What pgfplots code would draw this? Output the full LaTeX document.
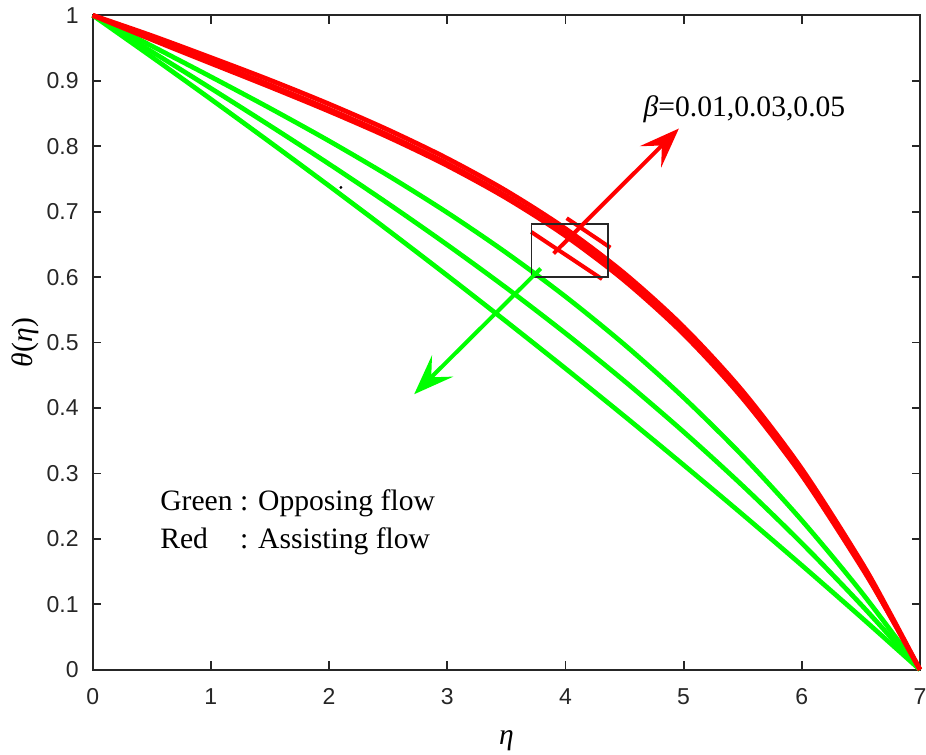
\documentclass[border=0pt]{standalone}
\usepackage{fontspec}
\setmainfont{Liberation Serif}
\newfontfamily\arialfont{Liberation Sans}
\usepackage{pgfplots}
\pgfplotsset{compat=1.18}
\usetikzlibrary{arrows.meta}
\definecolor{mred}{RGB}{255,0,0}
\definecolor{mgreen}{RGB}{0,255,0}
\definecolor{axgray}{RGB}{38,38,38}

\begin{document}
\begin{tikzpicture}
\begin{axis}[
  scale only axis, width=413.6pt, height=327.2pt,
  xmin=0, xmax=7, ymin=0, ymax=1,
  xtick={0,1,2,3,4,5,6,7},
  ytick={0,0.1,0.2,0.3,0.4,0.5,0.6,0.7,0.8,0.9,1},
  yticklabels={0,0.1,0.2,0.3,0.4,0.5,0.6,0.7,0.8,0.9,1},
  tick align=inside, major tick length=4.2pt,
  axis line style={axgray, line width=0.9pt},
  every tick/.style={axgray, line width=0.9pt},
  tick label style={font=\arialfont\fontsize{11.5}{13}\selectfont, text=axgray},
  /pgf/number format/assume math mode=true,
  yticklabel style={xshift=-3.5pt},
  xticklabel style={yshift=-6pt},
  xlabel={\itshape η},
  ylabel={\itshape θ\upshape(\itshape η\upshape)},
  label style={font=\fontsize{14.8}{17}\selectfont},
  xlabel style={at={(axis description cs:0.5,-0.1146)}, anchor=base},
  ylabel style={at={(axis description cs:-0.082,0.5)}, anchor=center},
  clip=false,
]
% opposing flow (green)
\addplot[mgreen, line width=2.35pt, smooth] coordinates {
(0,1) (0.5,0.9531) (1,0.9061) (1.5,0.8580) (2,0.8080) (2.5,0.7551) (3,0.6985)
(3.5,0.6371) (4,0.5702) (4.5,0.4967) (5,0.4159) (5.5,0.3267) (6,0.2282) (6.5,0.1196) (7,0)};
\addplot[mgreen, line width=2.35pt, smooth] coordinates {
(0,1) (0.5,0.9445) (1,0.8884) (1.5,0.8313) (2,0.7728) (2.5,0.7123) (3,0.6493)
(3.5,0.5835) (4,0.5142) (4.5,0.4410) (5,0.3635) (5.5,0.2811) (6,0.1934) (6.5,0.0998) (7,0)};
\addplot[mgreen, line width=2.35pt, smooth] coordinates {
(0,1) (0.5,0.9364) (1,0.8718) (1.5,0.8061) (2,0.7394) (2.5,0.6715) (3,0.6024)
(3.5,0.5320) (4,0.4604) (4.5,0.3874) (5,0.3129) (5.5,0.2371) (6,0.1596) (6.5,0.0806) (7,0)};
% assisting flow (red), beta = 0.01, 0.03, 0.05
\addplot[mred, line width=2.35pt, smooth] coordinates {
(0,1) (0.5,0.9628) (1,0.9266) (1.5,0.8906) (2,0.8534) (2.5,0.8139) (3,0.7703)
(3.5,0.7207) (4,0.6630) (4.5,0.5945) (5,0.5128) (5.5,0.4146) (6,0.2971) (6.5,0.1582) (6.75,0.0814) (7,0)};
\addplot[mred, line width=2.35pt, smooth] coordinates {
(0,1) (0.5,0.9644) (1,0.9290) (1.5,0.8934) (2,0.8564) (2.5,0.8169) (3,0.7733)
(3.5,0.7237) (4,0.6660) (4.5,0.5975) (5,0.5158) (5.5,0.4176) (6,0.2998) (6.5,0.1603) (6.75,0.0816) (7,0)};
\addplot[mred, line width=2.35pt, smooth] coordinates {
(0,1) (0.5,0.9688) (1,0.9354) (1.5,0.9010) (2,0.8644) (2.5,0.8249) (3,0.7813)
(3.5,0.7317) (4,0.6740) (4.5,0.6055) (5,0.5238) (5.5,0.4256) (6,0.3070) (6.5,0.1659) (6.75,0.0852) (7,0)};
% zoom box with separated curves
\addplot[mred, line width=2pt] coordinates {(3.71,0.669) (4.31,0.597)};
\addplot[mred, line width=2pt] coordinates {(4.01,0.690) (4.38,0.645)};
\addplot[only marks, mark=*, mark size=0.5pt, black] coordinates {(2.10,0.737)};
\draw[axgray, line width=0.6pt] (axis cs:3.71,0.600) rectangle (axis cs:4.36,0.681);
\draw[mred, line width=2pt, -{Stealth[length=20pt,width=15pt,inset=8pt]}]
  (axis cs:3.90,0.636) -- (axis cs:4.96,0.827);
\draw[mgreen, line width=2pt, -{Stealth[length=20pt,width=15pt,inset=8pt]}]
  (axis cs:3.79,0.613) -- (axis cs:2.72,0.421);
\node[anchor=base west, inner sep=0pt, font=\fontsize{14.8}{19}\selectfont]
  at (axis cs:4.658,0.845) {{\itshape β}=0.01,0.03,0.05};
\node[anchor=base west, inner sep=0pt, font=\fontsize{14.8}{19}\selectfont]
  at (axis cs:0.569,0.244) {\begin{tabular}[t]{@{}l@{ : }l@{}}Green & Opposing flow\\ Red & Assisting flow\end{tabular}};
\end{axis}
\pgfresetboundingbox
\path ([shift={(-46.35pt,-42.15pt)}]current axis.south west) rectangle ([shift={(3pt,7.65pt)}]current axis.north east);
\end{tikzpicture}
\end{document}
